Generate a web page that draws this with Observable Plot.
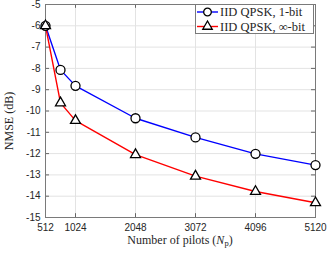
<!DOCTYPE html>
<html><head><meta charset="utf-8">
<script src="https://cdn.jsdelivr.net/npm/d3@7"></script>
<script src="https://cdn.jsdelivr.net/npm/@observablehq/plot@0.6"></script>
<style>body{margin:0;background:#fff}</style>
</head><body><div id="chart"></div>
<script>
const pilots = [512, 768, 1024, 2048, 3072, 4096, 5120];
const nmse1bit = [-6.0, -8.07, -8.82, -10.34, -11.24, -12.01, -12.54];
const nmseInf = [-6.0, -9.62, -10.45, -12.05, -13.06, -13.78, -14.31];
const xTicks = [512, 1024, 2048, 3072, 4096, 5120];
const yTicks = [-5, -6, -7, -8, -9, -10, -11, -12, -13, -14, -15];
const seriesNames = ["IID QPSK, 1-bit", "IID QPSK, \u221E-bit"];
const seriesColors = ["#0000ff", "#ff0000"];

const d1 = pilots.map((p, i) => ({x: p, y: nmse1bit[i]}));
const d2 = pilots.map((p, i) => ({x: p, y: nmseInf[i]}));

const rCircle = 4.5, rTri = 3.7;

const chart = Plot.plot({
  width: 329, height: 257,
  marginLeft: 45, marginRight: 14, marginTop: 4, marginBottom: 40,
  x: {domain: [512, 5120]},
  y: {domain: [-15, -5]},
  style: {fontFamily: "'Liberation Sans', Arial, sans-serif", fontSize: "10px", background: "white", color: "#262626", overflow: "visible"},
  marks: [
    Plot.gridX(xTicks, {stroke: "#e3e3e3", strokeOpacity: 1}),
    Plot.gridY(yTicks, {stroke: "#e3e3e3", strokeOpacity: 1}),
    Plot.ruleX(xTicks, {x: d => d, y1: -15, y2: -14.82, stroke: "#666"}),
    Plot.ruleX(xTicks, {x: d => d, y1: -5, y2: -5.18, stroke: "#666"}),
    Plot.ruleY(yTicks, {y: d => d, x1: 512, x2: 580, stroke: "#666"}),
    Plot.ruleY(yTicks, {y: d => d, x1: 5120, x2: 5052, stroke: "#666"}),
    Plot.frame({stroke: "#7a7a7a"}),
    Plot.axisX(xTicks, {tickSize: 0, tickPadding: 6, label: null, tickFormat: d => String(d), fill: "#262626"}),
    Plot.axisY(yTicks, {tickSize: 0, tickPadding: 5, label: null, tickFormat: d => String(d), fill: "#262626"}),
    Plot.line(d1, {x: "x", y: "y", stroke: seriesColors[0], strokeWidth: 1.4}),
    Plot.line(d2, {x: "x", y: "y", stroke: seriesColors[1], strokeWidth: 1.4}),
    Plot.dot(d1, {x: "x", y: "y", symbol: "circle", r: rCircle, stroke: "black", fill: "white", strokeWidth: 1.3}),
    Plot.dot(d2, {x: "x", y: "y", symbol: "triangle", r: rTri, stroke: "black", fill: "white", strokeWidth: 1.3})
  ]
});
document.getElementById("chart").appendChild(chart);

const svg = d3.select(chart);
const serif = "'Liberation Serif', 'Times New Roman', serif";
// y label
svg.append("text")
  .attr("transform", "translate(13,121) rotate(-90)")
  .attr("text-anchor", "middle")
  .attr("font-family", serif).attr("font-size", 12).attr("fill", "#262626")
  .text("NMSE (dB)");
// x label
const xl = svg.append("text")
  .attr("x", 180).attr("y", 244)
  .attr("text-anchor", "middle")
  .attr("font-family", serif).attr("font-size", 12).attr("fill", "#262626");
xl.append("tspan").text("Number of pilots (");
xl.append("tspan").attr("font-style", "italic").text("N");
xl.append("tspan").attr("font-size", 8.5).attr("dy", 2).text("p");
xl.append("tspan").attr("dy", -2).text(")");

// legend
const lg = svg.append("g").attr("text-anchor", "start");
lg.append("rect").attr("x", 195.5).attr("y", 4.5).attr("width", 118).attr("height", 29)
  .attr("fill", "white").attr("stroke", "#7a7a7a");
seriesNames.forEach((name, i) => {
  const cy = 12 + i * 14.5;
  lg.append("line").attr("x1", 197).attr("x2", 218).attr("y1", cy).attr("y2", cy)
    .attr("stroke", seriesColors[i]).attr("stroke-width", 1.4);
  const r = i === 0 ? rCircle * 0.85 : rTri * 0.95;
  lg.append("path")
    .attr("d", d3.symbol(i === 0 ? d3.symbolCircle : d3.symbolTriangle, Math.PI * r * r)())
    .attr("transform", `translate(207.5,${cy})`)
    .attr("fill", "white").attr("stroke", "black").attr("stroke-width", 1.3);
  lg.append("text").attr("x", 220).attr("y", cy).attr("dy", "0.35em")
    .attr("text-anchor", "start")
    .attr("font-family", serif).attr("font-size", 12.5).attr("fill", "#262626")
    .text(name);
});
</script>
</body></html>
